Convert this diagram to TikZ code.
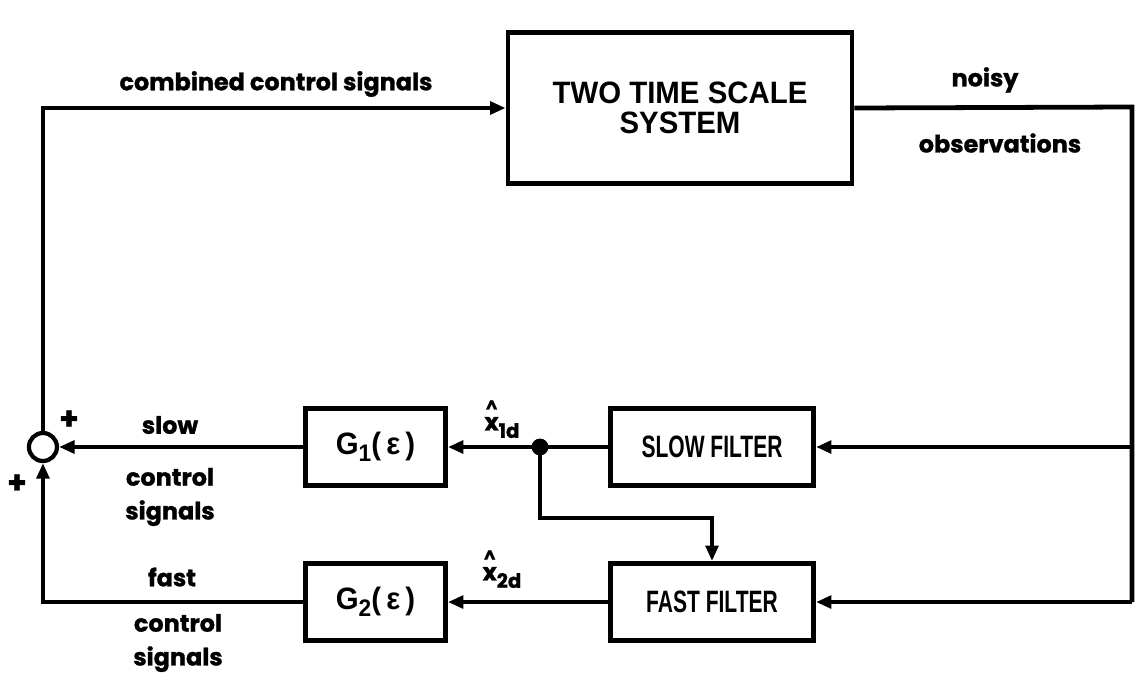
\documentclass[tikz,border=0pt]{standalone}
\usepackage{amsmath}
\usepackage{fontspec}
\setmainfont{Liberation Sans}
\newfontfamily\boxfont[FakeStretch=0.68]{Liberation Sans}
\newfontfamily\sysfont[FakeStretch=0.95]{Liberation Sans}
\newfontfamily\labfont[BoldFeatures={FakeBold=1.2}]{Poppins}
\usepackage{tikz}
\usetikzlibrary{positioning,arrows.meta,calc}
\newcommand{\hx}[1]{$\overset{\text{\textasciicircum}}{\text{x}}$\raisebox{-0.55ex}{\fontsize{14}{14}\selectfont#1}}
\newcommand{\gsub}[1]{G\raisebox{-0.45ex}{\fontsize{17}{17}\selectfont#1}(\,ε\,)}

\begin{document}
\begin{tikzpicture}[x=0.025cm,y=-0.025cm, line width=3.4pt, node distance=1.825cm and 4cm,
  box/.style={draw,align=center,inner sep=0pt,font=\boxfont\bfseries\fontsize{22}{23}\selectfont,minimum height=1.93cm},
  filt/.style={box,minimum width=5.08cm}, gain/.style={box,font=\sysfont\bfseries\fontsize{22}{23}\selectfont,minimum width=3.5cm},
  lab/.style={font=\labfont\bfseries\fontsize{17}{24}\selectfont,inner sep=0pt},
  >={Triangle[length=11pt,width=9pt]}]
  \useasboundingbox (0,0) rectangle (1136,685);
  \node[box,font=\sysfont\bfseries\fontsize{22}{23}\selectfont,minimum width=8.6cm,minimum height=3.78cm] (sys) at (680,108) {TWO TIME SCALE\\[-2pt]SYSTEM};
  \node[filt] (slowf) at (712,447) {SLOW FILTER};
  \node[filt, below=of slowf] (fastf) {FAST FILTER};
  \node[gain, left=of slowf] (gone) {\gsub{1}};
  \node[gain, left=of fastf] (gtwo) {\gsub{2}};
  \node[draw,circle,minimum size=0.7cm,inner sep=0pt,line width=3pt, left=6.1cm of gone] (sum) {};
  \coordinate (rt) at (1132,107);
  \coordinate (jd) at (540,447); \coordinate (br) at (540,518);
  \draw[->] (sum.north) |- (sys.west);
  \draw (sys.east) -- (rt) -- (fastf.east -| rt);
  \draw[->] (slowf.east -| rt) -- (slowf.east); \draw[->] (fastf.east -| rt) -- (fastf.east);
  \draw[->] (slowf.west) -- (gone.east); \draw[->] (fastf.west) -- (gtwo.east);
  \draw[->] (gone.west) -- (sum.east); \draw[->] (gtwo.west) -| (sum.south);
  \fill (jd) circle (6pt); \draw[->] (jd) -- (br) -| (fastf.north);
  \node[lab] (tlab) at (276,84) {combined control signals};
  \node[lab] (noisy) at (985,80) {noisy}; \node[lab] (obs) at (1000,143) {observations};
  \node[lab] (slow) at (170,425) {slow}; \node[lab,align=center] (sctl) at (170,497) {control\\signals};
  \node[lab] (fast) at (172,577) {fast}; \node[lab,align=center] (fctl) at (178,643) {control\\signals};
  \node[lab,font=\labfont\bfseries\fontsize{22}{24}\selectfont] (pone) at (69,420) {+};
  \node[lab,font=\labfont\bfseries\fontsize{22}{24}\selectfont] (ptwo) at (17,484) {+};
  \node[lab] (xone) at (502,418) {\hx{1d}}; \node[lab] (xtwo) at (502,568) {\hx{2d}};
\end{tikzpicture}
\end{document}
